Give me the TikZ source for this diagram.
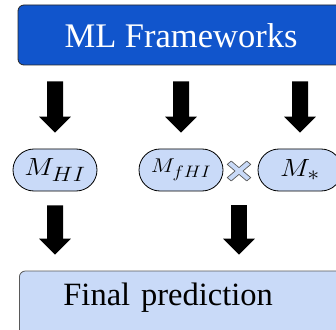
\documentclass[tikz,border=0pt]{standalone}
\usepackage{fontspec}
\usepackage{graphicx}
\setmainfont{Liberation Serif}
\DeclareMathSizes{24.88}{24.88}{20.74}{14.4}
\usetikzlibrary{shapes.misc, arrows.meta}

% model label, optionally shrunk to fit its node
\newcommand{\modelname}[2][1]{\scalebox{#1}{\scalebox{1.15}[1.0]{$#2$}}}

\begin{document}
\begin{tikzpicture}[x=1pt, y=1pt]
    \definecolor{frameBlue}{HTML}{1155CC}
    \definecolor{boxFill}{HTML}{C9DAF8}
    \definecolor{boxBorder}{HTML}{595959}

    \tikzset{
        flowarrow/.style={line width=16pt, -{Triangle[width=31pt, length=16pt]}, shorten <=16pt, shorten >=16pt},
        modelnode/.style={rounded rectangle, draw=black, fill=boxFill, line width=0.8pt, minimum width=84pt, minimum height=42pt, inner sep=0pt, font=\fontsize{24.88}{30}\selectfont},
    }

    \def\armHalf{2.8} % half width of one stroke of the cross
    \def\armLen{13.8} % half length of one stroke of the cross

    % Page size
    \useasboundingbox (0,0) rectangle (336,329);
    \clip (0,0) rectangle (336,329);

    % Framework box on top
    \node[rounded corners=6pt, draw=black!85, line width=0.8pt, fill=frameBlue, text=white, minimum width=326pt, minimum height=60pt, text height=25pt, font=\fontsize{34.5}{40}\selectfont] (frameworks) at (181,294) {ML Frameworks};

    % Model nodes
    \node[modelnode] (hi) at (55,159) {\modelname{M_{HI}}};
    \node[modelnode] (fhi) at (181,159) {\modelname[0.8]{M_{fHI}}};
    \node[modelnode] (star) at (300,159) {\modelname{M_{*}}};

    % Product sign between the two models
    \coordinate (times) at (239,158);
    \begin{scope}[shift={(times)}, yscale=0.85, rotate=45]
        \draw[draw=boxBorder, fill=boxFill, line width=0.7pt, line join=round]
            (\armHalf,\armLen) -- (\armHalf,\armHalf) -- (\armLen,\armHalf) -- (\armLen,-\armHalf)
            -- (\armHalf,-\armHalf) -- (\armHalf,-\armLen) -- (-\armHalf,-\armLen) -- (-\armHalf,-\armHalf)
            -- (-\armLen,-\armHalf) -- (-\armLen,\armHalf) -- (-\armHalf,\armHalf) -- (-\armHalf,\armLen) -- cycle;
    \end{scope}

    % Final box at the bottom
    \node[anchor=base west, draw=boxBorder, line width=0.8pt, fill=boxFill, rounded corners=6pt, inner xsep=44pt, inner ysep=4pt, text width=240pt, align=left, text height=30pt, text depth=40pt, font=\fontsize{32.5}{38}\selectfont] (final) at (19,24) {Final prediction};

    % Arrows from the frameworks to the models
    \draw[flowarrow] (frameworks.south -| hi) -- (hi);
    \draw[flowarrow] (frameworks.south -| fhi) -- (fhi);
    \draw[flowarrow] (frameworks.south -| star) -- (star);

    % Arrows down to the prediction
    \draw[flowarrow, shorten <=14pt] (hi) -- (hi |- final.north);
    \draw[flowarrow, shorten <=14pt] (times |- fhi.south) -- (times |- final.north);
\end{tikzpicture}
\end{document}
